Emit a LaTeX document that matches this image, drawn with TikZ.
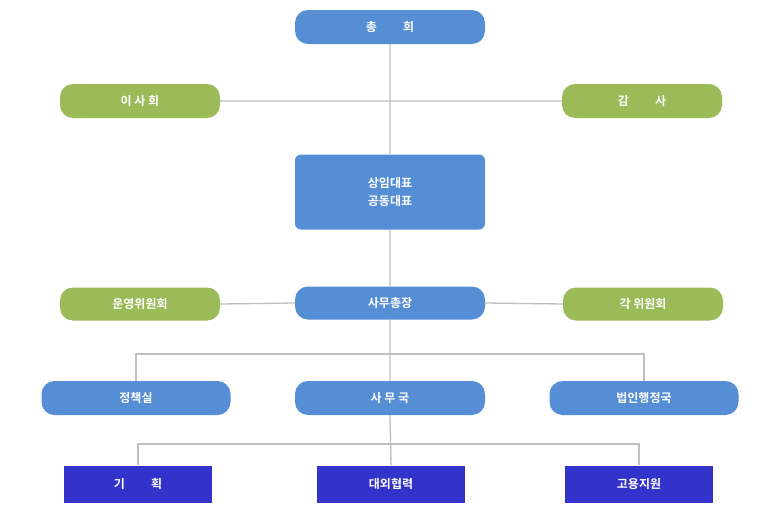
\documentclass[tikz,border=0pt]{standalone}
\usepackage{fontspec}
\newfontfamily\kr{Noto Sans CJK KR}[BoldFont={Noto Sans CJK KR Bold}]
\definecolor{bl}{HTML}{558ED5}
\definecolor{gr}{HTML}{9BBB59}
\definecolor{dk}{HTML}{3333CC}
\definecolor{ln}{HTML}{BFBFBF}
\begin{document}
\begin{tikzpicture}[x=1pt,y=-1pt,
 box/.style={rounded corners=13pt,text=white,font=\kr\bfseries\fontsize{12}{14}\selectfont,inner sep=0,align=center},
 b/.style={box,fill=bl}, g/.style={box,fill=gr},
 sq/.style={box,rounded corners=0,fill=dk},
 ln/.style={draw=ln,line width=1.3pt}]
\useasboundingbox (0,0) rectangle (780,530);
\newcommand\bx[6]{\node[#1,minimum width=#4pt,minimum height=#5pt] (#2) at (#3) {#6};}
\bx{b}{zh}{390,27}{190}{34}{총\hspace{2.2em}회}
\bx{g}{is}{140,101}{160}{34}{이 사 회}
\bx{g}{gs}{642,101}{160}{34}{감\hspace{2.2em}사}
\node[b,rounded corners=6pt,minimum width=190pt,minimum height=75pt] (dp) at (390,192) {상임대표\\[4pt]공동대표};
\bx{g}{uy}{140,304}{160}{33}{운영위원회}
\bx{b}{sc}{390,303}{190}{33}{사무총장}
\bx{g}{gw}{643,304}{160}{33}{각 위원회}
\bx{b}{jc}{136,398}{189}{34}{정책실}
\bx{b}{sm}{390,398}{190}{34}{사 무 국}
\bx{b}{bh}{644,398}{189}{34}{법인행정국}
\bx{sq}{gh}{138,484}{148}{37}{기\hspace{2.2em}획}
\bx{sq}{dw}{391,484}{148}{37}{대외협력}
\bx{sq}{gy}{639,484}{148}{37}{고용지원}
\begin{scope}[on background layer/.try]\end{scope}
\coordinate (a1) at (136,354); \coordinate (a2) at (644,354);
\coordinate (b1) at (138,444); \coordinate (b2) at (639,444);
\draw[ln] (zh.south) -- (dp.north) (dp.south) -- (sc.north) (sc.south) -- (sm.north) (sm.south) -- (dw.north);
\draw[ln] (is.east) -- (gs.west) (uy.east) -- (sc.west) (sc.east) -- (gw.west);
\draw[ln] (jc.north) -- (a1) -- (a2) -- (bh.north);
\draw[ln] (gh.north) -- (b1) -- (b2) -- (gy.north);
\end{tikzpicture}
\end{document}
